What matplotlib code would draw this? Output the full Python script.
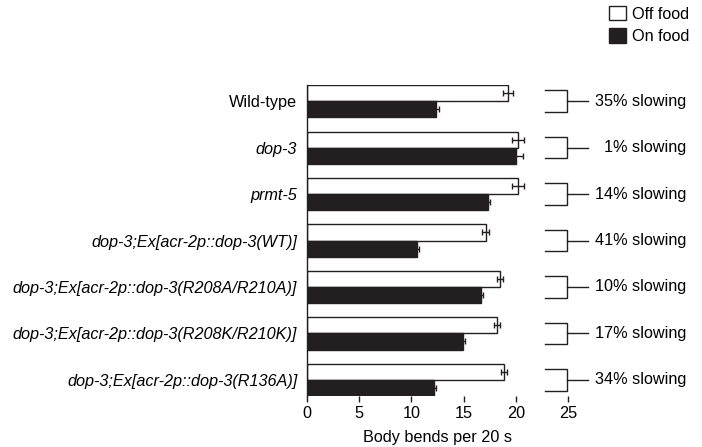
import matplotlib
matplotlib.use("Agg")
import matplotlib.pyplot as plt
from matplotlib.patches import Patch
import numpy as np

plt.rcParams['font.family'] = ['Liberation Sans', 'DejaVu Sans']

strains = ["Wild-type", "dop-3", "prmt-5",
           "dop-3;Ex[acr-2p::dop-3(WT)]",
           "dop-3;Ex[acr-2p::dop-3(R208A/R210A)]",
           "dop-3;Ex[acr-2p::dop-3(R208K/R210K)]",
           "dop-3;Ex[acr-2p::dop-3(R136A)]"]
italic = [False, True, True, True, True, True, True]
off_food = [19.25, 20.2, 20.2, 17.1, 18.5, 18.2, 18.9]
off_err = [0.45, 0.55, 0.55, 0.3, 0.3, 0.25, 0.3]
on_food = [12.35, 20.05, 17.3, 10.5, 16.7, 14.9, 12.2]
on_err = [0.25, 0.6, 0.2, 0.25, 0.2, 0.2, 0.15]
slowing = ["35% slowing", "1% slowing", "14% slowing", "41% slowing",
           "10% slowing", "17% slowing", "34% slowing"]
xticks = [0, 5, 10, 15, 20, 25]

FS = 11.7
fig = plt.figure(figsize=(7.02, 4.47), dpi=100)
ax = fig.add_axes([0.4373, 0.1141, 0.8091 - 0.4373, 0.8098 - 0.1141])

n = len(strains)
y = np.arange(n)
h = 0.345
dark = '#231f20'

ax.barh(y - h / 2, off_food, height=h, color='white', edgecolor=dark, linewidth=1.0,
        xerr=off_err, error_kw=dict(ecolor=dark, elinewidth=1.0, capsize=2.5, capthick=1.0))
ax.barh(y + h / 2, on_food, height=h, color=dark, edgecolor=dark, linewidth=1.0,
        xerr=on_err, error_kw=dict(ecolor=dark, elinewidth=1.0, capsize=2.5, capthick=1.0))

ax.set_xlim(0, 25)
ax.set_ylim(n - 1 + h, -h)
ax.set_xticks(xticks)
ax.set_xticklabels([str(t) for t in xticks], fontsize=FS)
ax.set_yticks(y)
ax.set_yticklabels(strains, fontsize=FS)
for lab, it in zip(ax.get_yticklabels(), italic):
    if it:
        lab.set_style('italic')
ax.tick_params(axis='y', length=0, pad=7)
ax.tick_params(axis='x', length=4, width=1, color=dark, pad=3)
for s in ['top', 'right', 'bottom']:
    ax.spines[s].set_visible(False)
ax.spines['left'].set_color(dark)
ax.spines['left'].set_linewidth(1.0)
ax.set_xlabel("Body bends per 20 s", fontsize=FS, labelpad=7)

# Brackets with slowing percentages
bx0, bx1, bx2 = 22.8, 24.9, 26.9
bh = 0.23
for yi, txt in zip(y, slowing):
    ax.plot([bx0, bx1, bx1, bx0], [yi - bh, yi - bh, yi + bh, yi + bh],
            color=dark, lw=1.0, clip_on=False, solid_joinstyle='miter')
    ax.plot([bx1, bx2], [yi, yi], color=dark, lw=1.0, clip_on=False)
    ax.text(36.3, yi, txt, ha='right', va='center', fontsize=FS, clip_on=False)

handles = [Patch(facecolor='white', edgecolor=dark, linewidth=1.0, label='Off food'),
           Patch(facecolor=dark, edgecolor=dark, linewidth=1.0, label='On food')]
fig.legend(handles=handles, loc='upper right', bbox_to_anchor=(1.003, 1.02),
           frameon=False, fontsize=FS, handlelength=1.0, handleheight=1.0,
           handletextpad=0.4, labelspacing=0.4)

fig.savefig("out.png", dpi=100)
